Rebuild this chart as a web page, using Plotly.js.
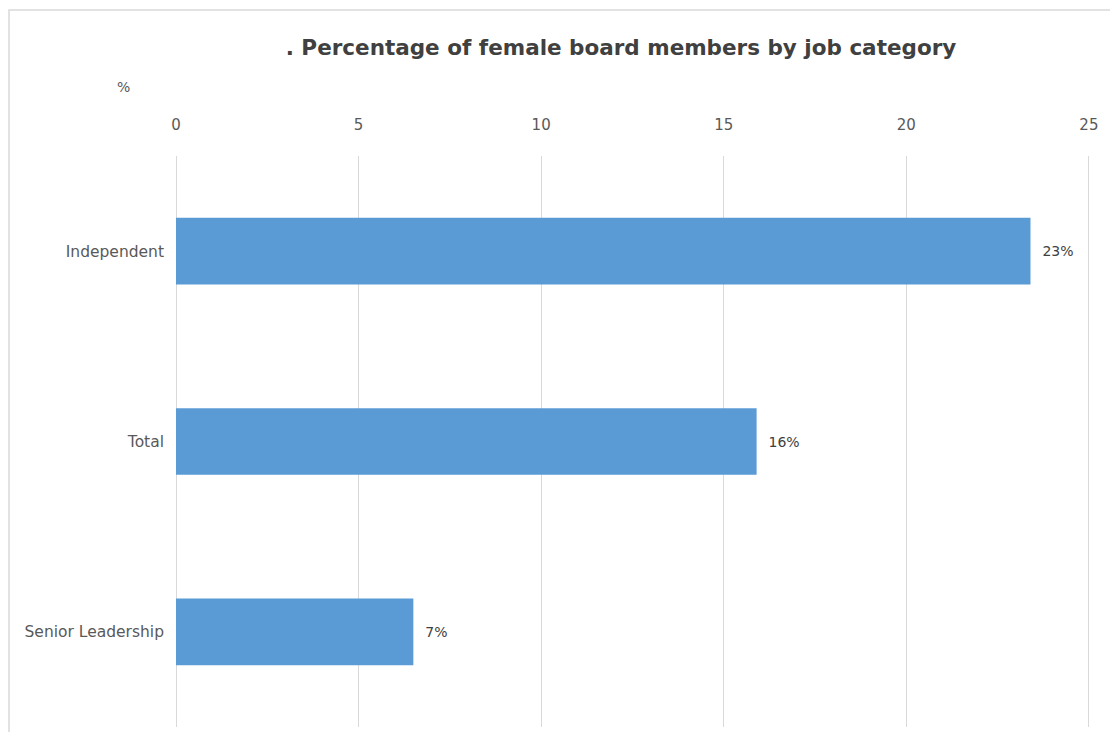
<!DOCTYPE html>
<html>
<head>
<meta charset="utf-8">
<script src="https://cdn.plot.ly/plotly-3.0.1.min.js"></script>
<style>
html,body{margin:0;padding:0;background:#fff;}
#chart{width:1110px;height:732px;}
</style>
</head>
<body>
<div id="chart"></div>
<script>
var categories = ['Independent', 'Total', 'Senior Leadership'];
var values = [23.4, 15.9, 6.5];
var valueLabels = ['23%', '16%', '7%'];
var xTicks = [0, 5, 10, 15, 20, 25];

var FONT = 'DejaVu Sans, sans-serif';

var trace = {
  type: 'bar',
  orientation: 'h',
  y: categories,
  x: values,
  text: valueLabels,
  texttemplate: '  %{text}',
  textposition: 'outside',
  cliponaxis: false,
  textfont: {family: FONT, size: 14, color: '#404040'},
  marker: {color: '#5B9BD5', line: {color: '#5B9BD5', width: 0}},
  width: 0.35,
  hoverinfo: 'x+y'
};

var layout = {
  width: 1110,
  height: 732,
  margin: {l: 176, r: 20, t: 156, b: 5},
  paper_bgcolor: '#ffffff',
  plot_bgcolor: '#ffffff',
  showlegend: false,
  title: {
    text: '. Percentage of female board members by job category',
    font: {family: FONT, size: 21.5, color: '#404040', weight: 'bold'},
    x: (621 - 176) / 914, xanchor: 'center', xref: 'paper',
    y: 0.935, yanchor: 'middle', yref: 'container'
  },
  xaxis: {
    side: 'top',
    range: [0, 25.03],
    tickvals: xTicks,
    ticktext: xTicks.map(String),
    showgrid: true,
    gridcolor: '#d9d9d9',
    gridwidth: 1,
    zeroline: true,
    zerolinecolor: '#d9d9d9',
    zerolinewidth: 1,
    showline: false,
    ticks: '',
    ticklabelstandoff: 22,
    tickfont: {family: FONT, size: 15, color: '#595959'},
    fixedrange: true
  },
  yaxis: {
    type: 'category',
    autorange: 'reversed',
    showgrid: false,
    zeroline: false,
    showline: false,
    ticks: '',
    ticklabelstandoff: 11,
    tickfont: {family: FONT, size: 15.5, color: '#595959'},
    fixedrange: true
  },
  annotations: [{
    text: '%',
    xref: 'paper', yref: 'paper',
    x: (123 - 176) / 914, y: (732 - 5 - 87) / 571,
    xanchor: 'center', yanchor: 'middle',
    showarrow: false,
    font: {family: FONT, size: 14, color: '#595959'}
  }],
  shapes: [{
    type: 'rect',
    xref: 'paper', yref: 'paper',
    x0: (9 - 176) / 914, x1: (1120 - 176) / 914,
    y0: -0.05, y1: (727 - 10) / 571,
    line: {color: '#d9d9d9', width: 1.5},
    fillcolor: 'rgba(0,0,0,0)',
    layer: 'below'
  }]
};

Plotly.newPlot('chart', [trace], layout, {displayModeBar: false, staticPlot: true});
</script>
</body>
</html>
